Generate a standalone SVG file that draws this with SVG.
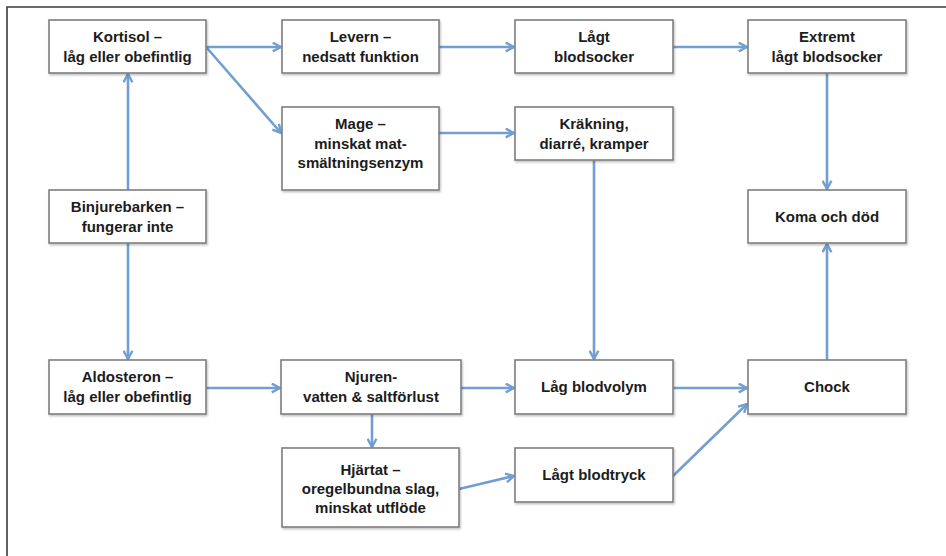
<svg xmlns="http://www.w3.org/2000/svg" width="946" height="556" viewBox="0 0 946 556">
<defs>
<style>
.box{fill:#fff;stroke:#7f7f7f;stroke-width:1.6;filter:url(#sh)}
.t{font-family:"Liberation Sans",Arial,sans-serif;font-weight:bold;font-size:15px;fill:#1c1c1c;text-anchor:middle}
.c{fill:none;stroke:#729fd2;stroke-width:2.6;marker-end:url(#ah)}
</style>
<filter id="sh" x="-10%" y="-10%" width="120%" height="130%">
<feDropShadow dx="1" dy="1.5" stdDeviation="1" flood-color="#000" flood-opacity="0.25"/>
</filter>
<marker id="ah" viewBox="0 0 10 10" refX="9" refY="5" markerWidth="11" markerHeight="11" markerUnits="userSpaceOnUse" orient="auto">
<path d="M1.5,1 L9,5 L1.5,9" fill="none" stroke="#729fd2" stroke-width="2.2" stroke-linejoin="miter"/>
</marker>
</defs>
<rect width="946" height="556" fill="#fff"/>
<path d="M7,556 L7,7 L946,7" fill="none" stroke="#3a3a3a" stroke-width="1.6"/>

<g id="connectors">
<line class="c" x1="128" y1="190" x2="128" y2="74"/>
<line class="c" x1="128" y1="243" x2="128" y2="359"/>
<line class="c" x1="206" y1="47" x2="281" y2="47"/>
<line class="c" x1="207" y1="48" x2="281" y2="133"/>
<line class="c" x1="439" y1="47" x2="514" y2="47"/>
<line class="c" x1="439" y1="133" x2="514" y2="133"/>
<line class="c" x1="673" y1="47" x2="747" y2="47"/>
<line class="c" x1="827" y1="73" x2="827" y2="189"/>
<line class="c" x1="594" y1="160" x2="594" y2="359"/>
<line class="c" x1="206" y1="388" x2="280" y2="388"/>
<line class="c" x1="461" y1="388" x2="514" y2="388"/>
<line class="c" x1="673" y1="388" x2="747" y2="388"/>
<line class="c" x1="372" y1="414" x2="372" y2="447"/>
<line class="c" x1="459" y1="489" x2="514" y2="476"/>
<line class="c" x1="673" y1="476" x2="747" y2="404"/>
<line class="c" x1="827" y1="360" x2="827" y2="244"/>
</g>

<g id="kortisol"><rect class="box" x="49" y="20" width="157" height="53"/><text class="t" x="127.5" y="42">Kortisol –</text><text class="t" x="127.5" y="62">låg eller obefintlig</text></g>
<g id="levern"><rect class="box" x="282" y="20" width="157" height="53"/><text class="t" x="360.5" y="42">Levern –</text><text class="t" x="360.5" y="62">nedsatt funktion</text></g>
<g id="lagt-blodsocker"><rect class="box" x="515" y="20" width="158" height="53"/><text class="t" x="594" y="42">Lågt</text><text class="t" x="594" y="62">blodsocker</text></g>
<g id="extremt"><rect class="box" x="748" y="20" width="158" height="53"/><text class="t" x="827" y="42">Extremt</text><text class="t" x="827" y="62">lågt blodsocker</text></g>
<g id="mage"><rect class="box" x="282" y="107" width="157" height="83"/><text class="t" x="360.5" y="129">Mage –</text><text class="t" x="360.5" y="148.5">minskat mat-</text><text class="t" x="360.5" y="168">smältningsenzym</text></g>
<g id="krakning"><rect class="box" x="515" y="107" width="158" height="53"/><text class="t" x="594" y="129">Kräkning,</text><text class="t" x="594" y="149">diarré, kramper</text></g>
<g id="binjurebarken"><rect class="box" x="49" y="190" width="157" height="53"/><text class="t" x="127.5" y="212">Binjurebarken –</text><text class="t" x="127.5" y="232">fungerar inte</text></g>
<g id="koma"><rect class="box" x="748" y="190" width="158" height="53"/><text class="t" x="827" y="222">Koma och död</text></g>
<g id="aldosteron"><rect class="box" x="49" y="360" width="157" height="54"/><text class="t" x="127.5" y="382">Aldosteron –</text><text class="t" x="127.5" y="402">låg eller obefintlig</text></g>
<g id="njuren"><rect class="box" x="281" y="360" width="180" height="54"/><text class="t" x="371" y="382">Njuren-</text><text class="t" x="371" y="402">vatten &amp; saltförlust</text></g>
<g id="lag-blodvolym"><rect class="box" x="515" y="360" width="158" height="54"/><text class="t" x="594" y="392">Låg blodvolym</text></g>
<g id="chock"><rect class="box" x="748" y="360" width="158" height="54"/><text class="t" x="827" y="392">Chock</text></g>
<g id="hjartat"><rect class="box" x="282" y="448" width="177" height="79"/><text class="t" x="370.5" y="475">Hjärtat –</text><text class="t" x="370.5" y="494">oregelbundna slag,</text><text class="t" x="370.5" y="513">minskat utflöde</text></g>
<g id="lagt-blodtryck"><rect class="box" x="515" y="448" width="158" height="54"/><text class="t" x="594" y="480">Lågt blodtryck</text></g>
</svg>
